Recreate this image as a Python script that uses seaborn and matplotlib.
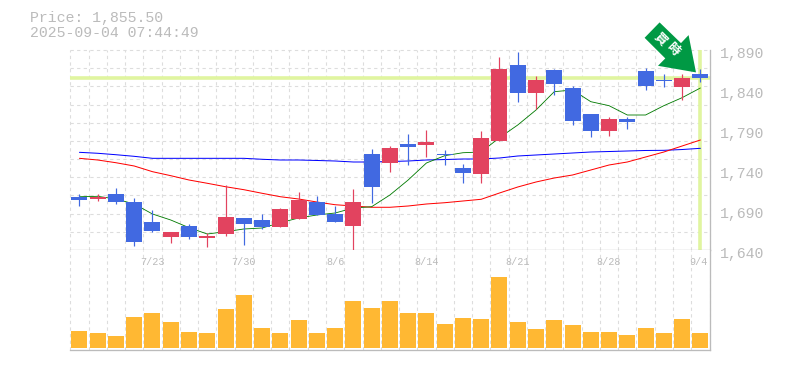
import matplotlib
matplotlib.use("Agg")
import matplotlib.pyplot as plt
import numpy as np
import pandas as pd
import seaborn as sns
from matplotlib.patches import Polygon
from matplotlib.transforms import ScaledTranslation, IdentityTransform

sns.set_theme(style="white")
plt.rcParams["font.family"] = ["Liberation Mono", "Noto Sans CJK JP", "DejaVu Sans"]

title_price = "Price: 1,855.50"
title_time = "2025-09-04 07:44:49"
last_price = 1855.5
y_ticks = [1640, 1690, 1740, 1790, 1840, 1890]
date_pos = [4, 9, 14, 19, 24, 29, 34]
date_labels = ["7/23", "7/30", "8/6", "8/14", "8/21", "8/28", "9/4"]
arrow_text = ["買", "時"]

is_red = [0,1,0,0,0,1,0,1,1,0,0,1,1,0,0,1,0,1,0,1,0,0,1,1,0,1,0,0,0,1,0,0,0,1,0]
body_top = [1706.25,1705.9,1710,1700,1675,1662.5,1670,1657.5,1681.25,1680,1677.5,1691.25,1702.5,1700,1685,1700,1760,1767.5,1772.5,1775,1760,1742.5,1780,1866.25,1871.25,1852.5,1865,1842.5,1810,1803.75,1803.75,1863.75,1852.5,1855,1860]
body_bot = [1702.5,1703.75,1700,1650,1663.75,1656.25,1656.25,1655,1660,1672.5,1668.75,1668.75,1678.75,1683.75,1675,1670,1718.75,1748.75,1768.75,1771.25,1758.75,1736.25,1735,1776.25,1836.25,1836.25,1847.5,1801.25,1788.75,1788.75,1800,1845,1851.25,1843.75,1855]
high = [1710,1710,1717.5,1705,1690,1662.5,1672.5,1661.25,1721.25,1680,1685,1692.5,1712.5,1707.5,1695,1716.25,1766.25,1770,1785,1790,1765,1747.5,1788.75,1881.25,1887.5,1857.5,1866.25,1845,1810,1806.25,1806.25,1867.5,1860,1860,1866.25]
low = [1695,1701.25,1697.5,1645,1662.5,1648.75,1653.75,1643.75,1657.5,1646.25,1666.25,1668.75,1678.75,1683.75,1675,1640,1698.75,1737.5,1746.25,1756.25,1746.25,1723.75,1723.75,1776.25,1825,1816.25,1833.75,1796.25,1781.25,1782.5,1791.25,1840,1843.75,1827.5,1850]

ma_short = [1706.6,1707.1,1703.75,1697.5,1685,1677.5,1667.9,1660,1662.9,1666.25,1667.5,1674.1,1680,1683.75,1686.25,1692.5,1694.1,1708.75,1727.5,1748.75,1757.9,1761.6,1762.5,1780.4,1796.25,1815,1837.9,1840,1825.4,1820.4,1808.75,1808.75,1820.4,1830.4,1842.5]
ma_mid = [1754.6,1752.5,1749.1,1745,1737.9,1732.9,1727.5,1723.4,1719.1,1715.4,1710.9,1706.6,1703.75,1700,1696.6,1695,1693.4,1693.4,1695,1697.5,1699.1,1701.25,1703.4,1711.25,1718.75,1725,1730,1733.75,1740,1746.25,1750,1756.25,1762.5,1770,1777.5]
ma_long = [1762.1,1760.9,1759.1,1757.1,1754.6,1754.6,1754.6,1754.6,1754.6,1754.6,1753.4,1752.5,1752.5,1751.9,1751.25,1750,1750,1750.6,1751.25,1752.5,1753.1,1753.75,1753.75,1755,1757.5,1758.75,1760,1761.25,1762.5,1763.1,1763.75,1764.4,1764.6,1765.6,1767.1]
volume = [17,15,12,31,35,26,16,15,39,53,20,15,28,15,20,47,40,47,35,35,24,30,29,71,26,19,28,23,16,16,13,20,15,29,15]

ink = "#bbbbbb"
grid_c = "#dddddd"
px = 0.72
df = pd.DataFrame({"i": np.arange(35), "vol": volume, "short": ma_short, "mid": ma_mid, "long": ma_long})

W, H = 785, 370
fig = plt.figure(figsize=(W/100, H/100), dpi=100, facecolor="white")
def rect(l, t, r, b):
    return [l/W, 1-b/H, (r-l)/W, (b-t)/H]
ax = fig.add_axes(rect(70.3, 50, 709.5, 250))
axv = fig.add_axes(rect(70.3, 250, 709.5, 350))

sns.barplot(data=df, x="i", y="vol", color="#ffb833", saturation=1, width=16/18.26, ax=axv, zorder=3, linewidth=0, native_scale=True)
axv.set_ylim(-2, 98)

for col, c, w in (("long", "#0000ff", 1.0), ("mid", "#ff0000", 1.0), ("short", "#007a00", 0.85)):
    sns.lineplot(data=df, x="i", y=col, color=c, lw=px*w, ax=ax, zorder=2, legend=False)
ax.set_ylim(1640, 1890)
ax.set_yticks(np.arange(1640, 1890.1, 250/11))

for a in (ax, axv):
    a.set_xlim(-0.5, 34.5)
    a.set_xticks(np.arange(-0.5, 34.6, 1))
    a.tick_params(length=0, labelbottom=False, labelleft=False)
    a.grid(True, axis="x", color=grid_c, lw=px*1.1, ls=(0, (3, 3)))
    a.set_axisbelow(True)
    a.set_xlabel(""); a.set_ylabel("")
    for s in ("top", "left"):
        a.spines[s].set_visible(False)
    for s in ("right", "bottom"):
        a.spines[s].set_color(ink); a.spines[s].set_linewidth(px*1.3)
ax.grid(True, axis="y", color=grid_c, lw=px*1.1, ls=(0, (3, 3)))
for gl in ax.get_xgridlines() + ax.get_ygridlines() + axv.get_xgridlines():
    gl.set_clip_on(False)

ax.axhline(last_price, color="#e0f5a0", lw=px*3.6, zorder=1.5)
ax.axvline(34, color="#e0f5a0", lw=px*3.6, zorder=1.5)

colors = ["#e2435f" if r else "#4169e1" for r in is_red]
x = np.arange(35)
ax.vlines(x, low, high, colors=colors, lw=px*1.2, zorder=3)
ax.bar(x, np.array(body_top)-np.array(body_bot), bottom=body_bot, width=16/18.26, color=colors, zorder=4, linewidth=0)

for p, l in zip(date_pos, date_labels):
    axv.annotate(l, (p, 1), xycoords=("data", "axes fraction"), xytext=(-1.5 if p == 34 else 0, -12), textcoords="offset pixels",
                 ha="center", va="center", fontsize=7.3, color=ink, annotation_clip=False)
for v in y_ticks:
    ax.annotate(f"{v:,}", (1, v), xycoords=("axes fraction", "data"), xytext=(10.5, -4), textcoords="offset pixels",
                ha="left", va="center", fontsize=10.7, color=ink, annotation_clip=False)

fig.text(30/W, 1-18/H, title_price, fontsize=10.7, color=ink, va="center", ha="left")
fig.text(30/W, 1-33/H, title_time, fontsize=10.7, color=ink, va="center", ha="left")

# pointer arrow, anchored near the last candle (offsets in pixels, y up)
tip = ax.transData.transform((33.76, 1862))
off = ScaledTranslation(tip[0]/fig.dpi, tip[1]/fig.dpi, fig.dpi_scale_trans)
pts = np.array([(-36.4, 50), (-51.4, 34.6), (-30.7, 14), (-38, 6.6), (0, 0), (-7.4, 37.3), (-15, 29.3)])
ax.add_patch(Polygon(pts, closed=True, transform=IdentityTransform() + off, facecolor="#009944", edgecolor="none", zorder=6, clip_on=False))
for ch, o in zip(arrow_text, [(-35.7, 33.3), (-22.7, 23.3)]):
    ax.annotate(ch, xy=tip, xycoords="figure pixels", xytext=o, textcoords="offset pixels", rotation=-45,
                ha="center", va="center", color="white", fontsize=9, zorder=7, fontweight="bold",
                family=["Noto Sans CJK JP", "DejaVu Sans"])

fig.savefig("out.png", dpi=100)
